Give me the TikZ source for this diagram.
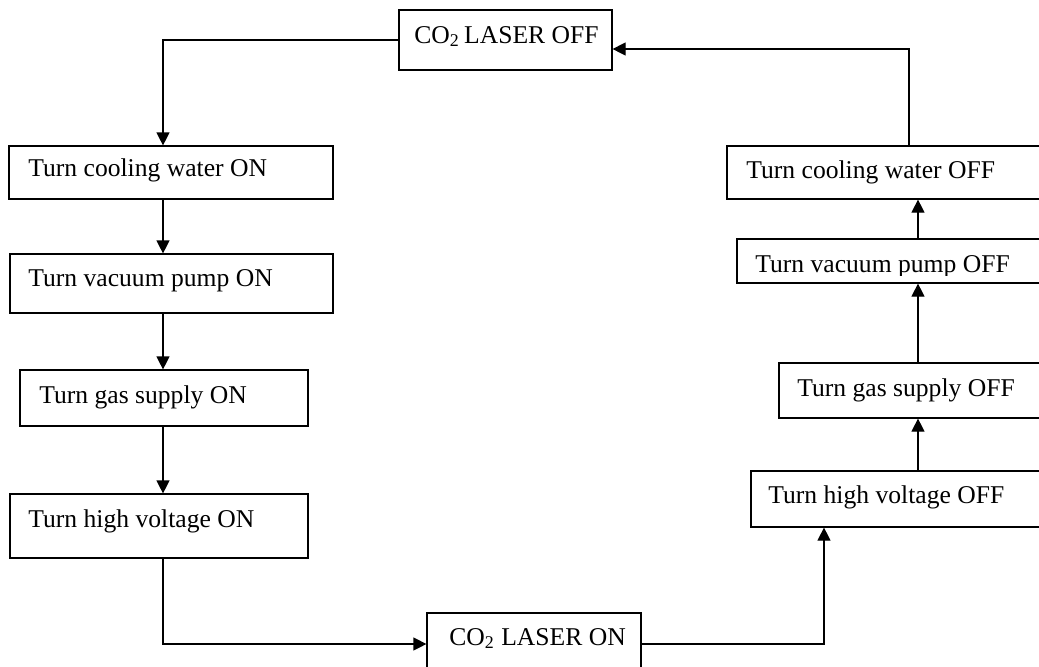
\documentclass[tikz,border=0pt]{standalone}
\usepackage{fontspec}
\setmainfont{Liberation Serif}
\usetikzlibrary{arrows.meta}
\begin{document}
\begin{tikzpicture}[x=0.5pt,y=-0.5pt,
  box/.style={draw,line width=0.6pt,rectangle,inner sep=0pt},
  lbl/.style={anchor=base west,inner sep=0pt,font=\fontsize{12.8}{15}\selectfont},
  conn/.style={line width=0.6pt},
  arr/.style={line width=0.6pt,-{Triangle[length=6.5pt,width=6.5pt]}}]
\useasboundingbox (0,0) rectangle (1039,666);
\clip (0,0) rectangle (1039,666);
% boxes
\node[box,minimum width=106.5pt,minimum height=30pt] (off) at (505.5,40) {};
\node[box,minimum width=162pt,minimum height=26.5pt] (cwon) at (171,172.5) {};
\node[box,minimum width=161.5pt,minimum height=29.5pt] (vpon) at (171.5,283.5) {};
\node[box,minimum width=144pt,minimum height=28pt] (gson) at (164,398) {};
\node[box,minimum width=149pt,minimum height=32pt] (hvon) at (159,526) {};
\node[box,minimum width=107pt,minimum height=29.5pt] (on) at (534,642.5) {};
\node[box,minimum width=159pt,minimum height=26.5pt] (cwoff) at (886,172.5) {};
\node[box,minimum width=154pt,minimum height=22pt] (vpoff) at (891,261) {};
\node[box,minimum width=133pt,minimum height=27.5pt] (gsoff) at (912,390.5) {};
\node[box,minimum width=147pt,minimum height=28pt] (hvoff) at (898,499) {};
% texts
\node[lbl] (toff) at (414,43) {CO\textsubscript{2}\,LASER OFF};
\node[lbl] (tcwon) at (28,176) {Turn cooling water ON};
\node[lbl] (tvpon) at (28,286) {Turn vacuum pump ON};
\node[lbl] (tgson) at (39,403) {Turn gas supply ON};
\node[lbl] (thvon) at (28,527) {Turn high voltage ON};
\node[lbl] (ton) at (449,645) {CO\textsubscript{2} LASER ON};
\node[lbl] (tcwoff) at (746,178) {Turn cooling water OFF};
\begin{scope}
\clip (737,239) rectangle (1045,275);
\node[lbl] (tvpoff) at (755,272) {Turn vacuum pump OFF};
\end{scope}
\node[lbl] (tgsoff) at (797,396) {Turn gas supply OFF};
\node[lbl] (thvoff) at (768,503) {Turn high voltage OFF};
% column coordinates
\coordinate (cl) at (163,0);
\coordinate (cr) at (918,0);
\coordinate (bot) at (0,644);
\coordinate (topr) at (909,49);
\coordinate (ur) at (824,0);
% connectors
\draw[arr] (off.west) -| (cl |- cwon.north);
\draw[arr] (cl |- cwon.south) -- (cl |- vpon.north);
\draw[arr] (cl |- vpon.south) -- (cl |- gson.north);
\draw[arr] (cl |- gson.south) -- (cl |- hvon.north);
\draw[arr] (cl |- hvon.south) |- (on.west |- bot);
\draw[arr] (on.east |- bot) -| (ur |- hvoff.south);
\draw[arr] (cr |- hvoff.north) -- (cr |- gsoff.south);
\draw[arr] (cr |- gsoff.north) -- (cr |- vpoff.south);
\draw[arr] (cr |- vpoff.north) -- (cr |- cwoff.south);
\draw[arr] (topr |- cwoff.north) |- (off.east |- topr);
\end{tikzpicture}
\end{document}
